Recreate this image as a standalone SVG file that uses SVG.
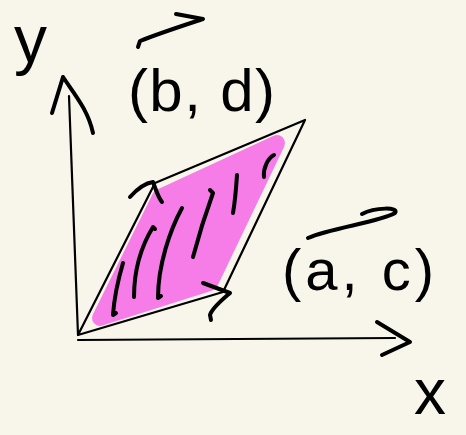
<svg xmlns="http://www.w3.org/2000/svg" width="466" height="435" viewBox="0 0 466 435">
<style>
.ink{fill:none;stroke:#000;stroke-linecap:round;stroke-linejoin:round}
.thin{stroke-width:2.2}
.thick{stroke-width:4}
.lbl{font-family:"Liberation Sans","DejaVu Sans",sans-serif;fill:#000}
</style>
<rect width="466" height="435" fill="#f8f6eb"/>
<g id="area">
<polygon points="100,318 160,197 277,143 210,283" fill="#f67ce8" stroke="#f67ce8" stroke-width="16" stroke-linejoin="round"/>
</g>
<g id="hatching" class="ink thick">
<path d="M123,263 C118,280 114,300 113,315 L116,313"/>
<path d="M155,229 L153,227 C142,245 134,270 134,297"/>
<path d="M182,208 C170,230 158,265 158,298 L161,296"/>
<path d="M210,190 L213,193 C205,215 198,238 193,257"/>
<path d="M237,175 C236,190 235,202 233,213"/>
<path d="M274,155 C268,158 263,168 264,177"/>
</g>
<g id="axes" class="ink">
<path class="thin" d="M69,96 L78,335"/>
<path class="thick" d="M52,113 L63,77 C75,95 88,110 93,133"/>
<path class="thin" d="M78,340 L395,338"/>
<path class="thick" d="M377,322 L410,342 L382,355"/>
</g>
<g id="parallelogram" class="ink thin">
<path d="M78,335 L155,183 L305,120 L223,292 Z"/>
</g>
<g id="vector-arrows" class="ink thick">
<path d="M130,197 C138,188 146,183 153,182 C156,190 158,197 162,202"/>
<path d="M203,283 L230,293 C222,300 212,308 210,315 L211,320"/>
<path d="M138,47 L140,41 C160,33 185,25 203,19 L176,14"/>
<path d="M308,238 C330,228 380,222 395,213 C400,207 375,207 362,214"/>
</g>
<g id="labels">
<text class="lbl" x="14" y="62" font-size="66">y</text>
<text class="lbl" x="128" y="111" font-size="60" textLength="147" lengthAdjust="spacing">(b, d)</text>
<text class="lbl" x="282" y="290" font-size="58" textLength="152" lengthAdjust="spacing">(a, c)</text>
<text class="lbl" x="414" y="414" font-size="64">x</text>
</g>
</svg>
